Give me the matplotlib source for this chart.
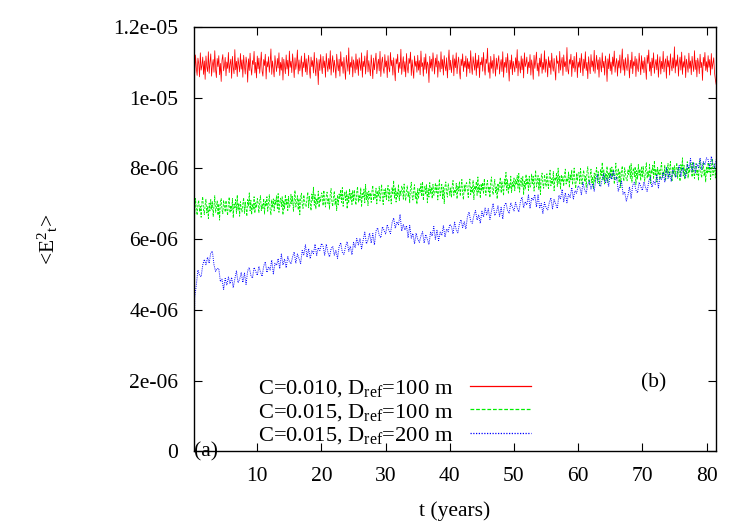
import numpy as np
import matplotlib
matplotlib.use("Agg")
import matplotlib.pyplot as plt

# ---------------- data (values in units of 1e-6) ----------------
fine_step_years = 0.125    # sampling of red and green series
coarse_step_years = 0.25   # sampling of blue series

red_e6 = [0.0,
 11.02, 10.70, 11.21, 10.84, 10.63, 11.12, 10.96, 10.59, 11.27, 10.78, 10.91, 11.15, 10.66, 11.04, 10.52, 11.18, 10.87, 10.74, 11.30, 10.69,
 10.99, 11.24, 10.61, 10.93, 11.08, 10.72, 11.33, 10.80, 10.57, 11.11, 10.88, 11.19, 10.65, 10.97, 10.46, 11.06, 11.22, 10.76, 10.90, 11.14,
 10.62, 11.01, 10.83, 11.28, 10.71, 10.95, 11.09, 10.55, 11.17, 10.86, 10.68, 11.36, 10.79, 11.03, 10.60, 11.13, 10.92, 10.73, 11.25, 10.81,
 11.07, 10.58, 11.20, 10.89, 10.67, 11.15, 10.98, 10.44, 11.10, 10.77, 11.26, 10.85, 10.64, 11.05, 10.94, 11.31, 10.70, 11.00, 10.56, 11.18,
 10.82, 11.12, 10.69, 10.96, 11.29, 10.75, 10.61, 11.08, 10.91, 11.23, 10.53, 11.02, 10.87, 11.16, 10.72, 10.98, 11.38, 10.66, 11.04, 10.80,
 10.59, 11.19, 10.93, 10.74, 11.11, 10.84, 11.27, 10.63, 11.00, 10.78, 11.14, 10.50, 11.09, 10.90, 10.68, 11.21, 10.81, 11.06, 10.62, 11.32,
 10.86, 11.03, 10.71, 11.24, 10.95, 10.57, 11.13, 10.80, 10.99, 11.35, 10.67, 11.07, 10.76, 10.92, 11.18, 10.60, 11.01, 10.85, 11.26, 10.73,
 11.10, 10.65, 10.97, 11.20, 10.79, 10.55, 11.15, 10.88, 11.05, 10.70, 11.28, 10.83, 10.62, 11.12, 10.94, 10.37, 11.08, 10.77, 11.22, 10.90,
 10.68, 11.17, 10.85, 11.04, 10.58, 11.25, 10.93, 10.74, 11.11, 10.81, 11.33, 10.64, 10.99, 11.19, 10.72, 11.06, 10.87, 10.56, 11.23, 10.96,
 10.76, 11.09, 10.61, 11.30, 10.89, 11.02, 10.69, 11.14, 10.83, 10.52, 11.20, 10.97, 10.75, 11.41, 10.66, 11.00, 10.86, 11.16, 10.59, 11.07,
 10.92, 10.70, 11.24, 10.80, 11.08, 10.63, 11.13, 10.95, 10.77, 11.27, 10.58, 11.03, 10.88, 11.18, 10.67, 10.99, 11.34, 10.73, 11.05, 10.84,
 10.62, 11.21, 10.91, 10.54, 11.12, 10.79, 11.01, 11.26, 10.68, 10.94, 11.09, 10.76, 11.31, 10.60, 10.98, 11.15, 10.82, 10.69, 11.22, 10.87,
 11.04, 10.57, 11.19, 10.85, 10.73, 11.28, 10.90, 11.06, 10.64, 11.13, 10.79, 10.48, 11.10, 10.96, 11.23, 10.71, 11.00, 10.83, 11.37, 10.66,
 10.93, 11.16, 10.74, 11.02, 10.59, 11.25, 10.86, 10.70, 11.11, 10.97, 11.29, 10.63, 11.07, 10.81, 10.55, 11.18, 10.89, 11.03, 10.72, 11.20,
 10.78, 11.05, 10.65, 11.32, 10.88, 10.99, 10.61, 11.14, 10.80, 11.24, 10.69, 11.01, 10.92, 10.43, 11.17, 10.84, 11.09, 10.75, 11.27, 10.95,
 10.67, 11.12, 10.87, 11.22, 10.58, 11.04, 10.96, 10.73, 11.30, 10.82, 11.08, 10.64, 11.19, 10.90, 10.76, 11.13, 10.56, 11.00, 11.35, 10.79,
 11.06, 10.71, 10.94, 11.21, 10.62, 11.10, 10.85, 11.27, 10.68, 10.98, 11.15, 10.77, 10.53, 11.09, 10.91, 11.24, 10.74, 11.03, 10.86, 11.18,
 10.60, 11.11, 10.82, 11.02, 10.70, 11.33, 10.89, 10.66, 11.16, 10.95, 10.78, 11.26, 10.63, 11.07, 10.84, 11.20, 10.57, 11.01, 10.93, 11.14,
 10.75, 11.28, 10.87, 10.64, 11.09, 10.97, 11.40, 10.72, 10.99, 10.55, 11.17, 10.83, 11.05, 10.69, 11.23, 10.90, 10.61, 11.12, 10.80, 11.02,
 11.19, 10.67, 10.95, 11.08, 10.74, 11.30, 10.58, 11.00, 10.86, 11.14, 10.71, 11.25, 10.92, 10.47, 11.06, 10.81, 11.21, 10.65, 11.03, 10.89,
 10.73, 11.13, 10.84, 11.36, 10.62, 11.04, 10.93, 10.70, 11.18, 10.79, 11.10, 10.56, 11.27, 10.88, 10.97, 11.15, 10.68, 11.01, 10.85, 11.22,
 10.64, 11.07, 10.90, 10.52, 11.20, 10.83, 11.03, 11.29, 10.76, 10.98, 10.61, 11.12, 10.87, 11.24, 10.69, 11.00, 10.80, 11.33, 10.72, 11.09,
 10.94, 10.59, 11.16, 10.85, 11.05, 10.66, 11.26, 10.91, 10.75, 11.11, 10.82, 10.50, 11.19, 10.97, 11.04, 10.70, 11.31, 10.78, 10.99, 11.14,
 10.63, 11.21, 10.88, 11.02, 10.74, 11.42, 10.81, 10.67, 11.08, 10.95, 11.23, 10.60, 11.06, 10.84, 11.17, 10.73, 10.92, 11.28, 10.57, 11.01,
 10.86, 11.12, 10.71, 11.25, 10.96, 10.62, 11.09, 10.83, 11.30, 10.77, 11.00, 10.54, 11.16, 10.90, 10.68, 11.22, 10.87, 11.04, 10.75, 11.34,
 10.69, 10.98, 11.20, 10.80, 11.07, 10.58, 11.14, 10.92, 10.73, 11.27, 10.85, 11.03, 10.64, 11.18, 10.95, 10.46, 11.10, 10.82, 11.24, 10.76,
 11.01, 10.66, 11.15, 10.89, 11.32, 10.72, 10.97, 11.11, 10.61, 11.05, 10.84, 11.21, 10.70, 10.99, 11.38, 10.78, 11.08, 10.63, 11.13, 10.91,
 10.77, 11.23, 10.94, 10.56, 11.06, 10.83, 11.29, 10.68, 11.02, 10.90, 11.17, 10.60, 11.10, 10.86, 10.74, 11.26, 10.95, 10.65, 11.19, 10.81,
 11.04, 10.71, 11.14, 10.88, 10.52, 11.20, 10.97, 11.35, 10.75, 11.01, 10.62, 11.12, 10.85, 11.27, 10.69, 10.93, 11.08, 10.79, 11.22, 10.58,
 10.96, 11.16, 10.67, 11.03, 10.82, 11.31, 10.73, 10.99, 11.10, 10.55, 11.18, 10.87, 11.05, 10.64, 11.24, 10.91, 10.76, 11.13, 10.84, 11.44,
 10.70, 11.07, 10.89, 11.21, 10.61, 10.98, 11.15, 10.78, 11.29, 10.66, 11.02, 10.86, 11.19, 10.57, 11.09, 10.94, 10.72, 11.26, 10.83, 11.04,
 10.65, 11.17, 10.92, 10.74, 11.33, 10.80, 11.06, 10.59, 11.12, 10.97, 10.68, 11.23, 10.85, 11.00, 10.49, 11.14, 10.90, 11.28, 10.77, 11.02,
 10.73, 11.19, 10.86, 11.08, 10.64, 11.25, 10.81, 10.97, 11.13, 10.70, 10.52, 10.38]

green_e6 = [0.0,
 7.04, 6.72, 7.15, 6.84, 6.68, 6.99, 7.10, 6.78, 6.93, 6.62, 7.06, 7.20, 6.81, 6.70, 6.97, 7.13, 6.74, 6.92, 6.58, 7.02,
 6.80, 7.12, 6.85, 7.06, 6.64, 6.95, 7.23, 6.76, 6.87, 7.08, 6.68, 7.00, 6.54, 7.04, 7.15, 6.83, 6.72, 7.10, 6.94, 6.77,
 7.09, 6.84, 6.67, 7.03, 7.19, 6.75, 6.95, 6.80, 7.15, 6.61, 6.99, 6.89, 7.12, 6.73, 7.25, 6.82, 7.02, 6.65, 7.06, 6.86,
 6.77, 7.01, 7.17, 6.73, 7.05, 6.87, 6.65, 7.12, 6.94, 7.31, 6.80, 7.10, 6.70, 6.99, 6.85, 7.20, 6.74, 7.03, 6.89, 7.15,
 7.02, 6.75, 7.09, 7.23, 6.81, 6.98, 6.87, 7.15, 6.71, 7.07, 6.93, 7.20, 6.79, 7.04, 7.26, 6.84, 6.69, 7.11, 6.90, 7.14,
 6.80, 7.11, 6.98, 7.23, 6.87, 7.29, 6.76, 7.05, 7.16, 6.92, 7.20, 6.69, 7.09, 6.85, 7.26, 6.96, 7.13, 6.81, 7.21, 6.90,
 6.95, 7.27, 7.00, 7.21, 6.79, 7.10, 7.38, 6.91, 7.02, 7.23, 6.83, 7.15, 6.69, 7.19, 7.30, 6.98, 6.87, 7.25, 7.09, 6.92,
 6.93, 7.17, 7.33, 6.89, 7.21, 7.03, 6.81, 7.28, 7.10, 7.47, 6.96, 7.26, 6.86, 7.15, 7.01, 7.36, 6.90, 7.19, 7.05, 7.31,
 7.27, 6.95, 7.38, 7.07, 6.91, 7.22, 7.33, 7.01, 7.16, 6.85, 7.29, 7.43, 7.04, 6.93, 7.20, 7.36, 6.97, 7.15, 6.81, 7.25,
 6.97, 7.28, 7.15, 7.40, 7.04, 7.46, 6.93, 7.22, 7.33, 7.09, 7.37, 6.86, 7.26, 7.02, 7.43, 7.13, 7.30, 6.98, 7.38, 7.07,
 7.39, 7.14, 6.97, 7.33, 7.49, 7.05, 7.25, 7.10, 7.45, 6.91, 7.29, 7.19, 7.42, 7.03, 7.55, 7.12, 7.32, 6.95, 7.36, 7.16,
 7.31, 7.04, 7.38, 7.52, 7.10, 7.27, 7.16, 7.44, 7.00, 7.36, 7.22, 7.49, 7.08, 7.33, 7.55, 7.13, 6.98, 7.40, 7.19, 7.43,
 7.12, 7.36, 7.52, 7.08, 7.40, 7.22, 7.00, 7.47, 7.29, 7.66, 7.15, 7.45, 7.05, 7.34, 7.20, 7.55, 7.09, 7.38, 7.24, 7.50,
 7.45, 7.13, 7.56, 7.25, 7.09, 7.40, 7.51, 7.19, 7.34, 7.03, 7.47, 7.61, 7.22, 7.11, 7.38, 7.54, 7.15, 7.33, 6.99, 7.43,
 7.14, 7.45, 7.32, 7.57, 7.21, 7.63, 7.10, 7.39, 7.50, 7.26, 7.54, 7.03, 7.43, 7.19, 7.60, 7.30, 7.47, 7.15, 7.55, 7.24,
 7.27, 7.59, 7.32, 7.53, 7.11, 7.42, 7.70, 7.23, 7.34, 7.55, 7.15, 7.47, 7.01, 7.51, 7.62, 7.30, 7.19, 7.57, 7.41, 7.24,
 7.45, 7.18, 7.52, 7.66, 7.24, 7.41, 7.30, 7.58, 7.14, 7.50, 7.36, 7.63, 7.22, 7.47, 7.69, 7.27, 7.12, 7.54, 7.33, 7.57,
 7.60, 7.35, 7.18, 7.54, 7.70, 7.26, 7.46, 7.31, 7.66, 7.12, 7.50, 7.40, 7.63, 7.24, 7.76, 7.33, 7.53, 7.16, 7.57, 7.37,
 7.60, 7.28, 7.71, 7.40, 7.24, 7.55, 7.66, 7.34, 7.49, 7.18, 7.62, 7.76, 7.37, 7.26, 7.53, 7.69, 7.30, 7.48, 7.14, 7.58,
 7.35, 7.59, 7.75, 7.31, 7.63, 7.45, 7.23, 7.70, 7.52, 7.89, 7.38, 7.68, 7.28, 7.57, 7.43, 7.78, 7.32, 7.61, 7.47, 7.73,
 7.37, 7.68, 7.55, 7.80, 7.44, 7.86, 7.33, 7.62, 7.73, 7.49, 7.77, 7.26, 7.66, 7.42, 7.83, 7.53, 7.70, 7.38, 7.78, 7.47,
 7.52, 7.84, 7.57, 7.78, 7.36, 7.67, 7.95, 7.48, 7.59, 7.80, 7.40, 7.72, 7.26, 7.76, 7.87, 7.55, 7.44, 7.82, 7.66, 7.49,
 7.85, 7.60, 7.43, 7.79, 7.95, 7.51, 7.71, 7.56, 7.91, 7.37, 7.75, 7.65, 7.88, 7.49, 8.01, 7.58, 7.78, 7.41, 7.82, 7.62,
 7.77, 7.50, 7.84, 7.98, 7.56, 7.73, 7.62, 7.90, 7.46, 7.82, 7.68, 7.95, 7.54, 7.79, 8.01, 7.59, 7.44, 7.86, 7.65, 7.89,
 7.89, 7.57, 8.00, 7.69, 7.53, 7.84, 7.95, 7.63, 7.78, 7.47, 7.91, 8.05, 7.66, 7.55, 7.82, 7.98, 7.59, 7.77, 7.43, 7.87,
 7.63, 7.87, 8.03, 7.59, 7.91, 7.73, 7.51, 7.98, 7.80, 8.17, 7.66, 7.96, 7.56, 7.85, 7.71, 8.06, 7.60, 7.89, 7.75, 8.01,
 7.72, 8.04, 7.77, 7.98, 7.56, 7.87, 8.15, 7.68, 7.79, 8.00, 7.60, 7.92, 7.46, 7.96, 8.07, 7.75, 7.64, 8.02, 7.86, 7.69,
 7.65, 7.96, 7.83, 8.08, 7.72, 8.14, 7.61, 7.90, 8.01, 7.77, 8.05, 7.54, 7.94, 7.70, 8.11, 7.81, 7.98, 7.66, 8.06, 7.75,
 8.06, 7.81, 7.64, 8.00, 8.16, 7.72, 7.92, 7.77, 8.12, 7.58, 7.96, 7.86, 8.09, 7.70, 8.22, 7.79, 7.99, 7.62, 8.03, 7.83,
 7.96, 7.69, 8.03, 8.17, 7.75, 7.92, 7.81, 8.09, 7.65, 8.01, 7.87, 8.14, 7.73, 7.98, 8.20, 7.78, 7.63, 8.05, 7.84, 8.08,
 7.76, 8.00, 8.16, 7.72, 8.04, 7.86, 7.64, 8.11, 7.93, 8.30, 7.79, 8.09, 7.69, 7.98, 7.84, 8.19, 7.73, 8.02, 7.88, 8.14,
 8.08, 7.76, 8.19, 7.88, 7.72, 8.03, 8.14, 7.82, 7.97, 7.66, 8.10, 8.24, 7.85, 7.74, 8.01, 8.17, 7.78, 7.96, 7.62, 8.06,
 7.85, 8.17, 7.90, 8.11, 7.69, 8.00, 8.28, 7.81, 7.92, 8.13, 7.73, 8.05]

blue_e6 = [0.0,
 4.35, 4.71, 5.13, 4.98, 4.94, 5.27, 5.43, 5.28, 5.49, 5.32, 5.62, 5.66, 5.28, 5.09, 5.17, 5.17, 4.80, 4.87, 4.58, 4.89,
 4.70, 4.93, 4.74, 4.92, 4.63, 4.88, 5.10, 4.77, 4.87, 5.06, 4.78, 5.04, 4.72, 5.11, 5.20, 4.98, 4.90, 5.20, 5.09, 4.98,
 5.23, 5.07, 4.95, 5.24, 5.36, 5.06, 5.22, 5.13, 5.41, 5.02, 5.32, 5.26, 5.45, 5.17, 5.58, 5.27, 5.44, 5.19, 5.51, 5.37,
 5.30, 5.50, 5.64, 5.32, 5.58, 5.45, 5.31, 5.68, 5.56, 5.84, 5.49, 5.73, 5.45, 5.68, 5.59, 5.86, 5.54, 5.76, 5.68, 5.88,
 5.80, 5.55, 5.86, 5.63, 5.50, 5.73, 5.80, 5.55, 5.68, 5.46, 5.79, 5.90, 5.63, 5.57, 5.79, 5.93, 5.66, 5.80, 5.56, 5.91,
 5.76, 6.02, 5.84, 6.02, 5.73, 5.98, 6.20, 5.87, 5.97, 6.17, 5.89, 6.16, 5.84, 6.23, 6.32, 6.11, 6.04, 6.35, 6.25, 6.15,
 6.41, 6.26, 6.16, 6.46, 6.60, 6.31, 6.49, 6.41, 6.70, 6.23, 6.42, 6.26, 6.38, 6.04, 6.39, 6.03, 6.16, 5.87, 6.17, 6.00,
 5.91, 6.09, 6.21, 5.89, 6.13, 6.00, 5.85, 6.21, 6.09, 6.36, 6.00, 6.25, 5.96, 6.20, 6.11, 6.38, 6.06, 6.29, 6.21, 6.42,
 6.37, 6.15, 6.48, 6.27, 6.18, 6.44, 6.55, 6.33, 6.49, 6.29, 6.64, 6.77, 6.51, 6.45, 6.67, 6.81, 6.54, 6.69, 6.45, 6.79,
 6.63, 6.88, 6.69, 6.86, 6.56, 6.80, 7.01, 6.67, 6.76, 6.94, 6.65, 6.90, 6.57, 6.95, 7.03, 6.81, 6.73, 7.03, 6.91, 6.80,
 7.04, 6.88, 6.77, 7.06, 7.19, 6.89, 7.06, 6.97, 7.25, 6.87, 7.17, 7.10, 7.26, 6.91, 7.25, 6.89, 7.01, 6.73, 7.04, 6.89,
 6.83, 7.03, 7.17, 6.86, 7.12, 7.00, 6.87, 7.24, 7.13, 7.41, 7.06, 7.31, 7.03, 7.27, 7.18, 7.46, 7.14, 7.37, 7.30, 7.51,
 7.47, 7.26, 7.60, 7.40, 7.30, 7.55, 7.65, 7.42, 7.57, 7.36, 7.70, 7.82, 7.55, 7.49, 7.71, 7.85, 7.58, 7.73, 7.50, 7.85,
 7.69, 7.94, 7.68, 7.76, 7.36, 7.51, 7.64, 7.27, 7.34, 7.08, 7.23, 7.48, 7.15, 7.53, 7.61, 7.39, 7.31, 7.61, 7.49, 7.38,
 7.62, 7.46, 7.35, 7.64, 7.77, 7.47, 7.64, 7.55, 7.83, 7.45, 7.75, 7.69, 7.89, 7.61, 8.02, 7.72, 7.89, 7.64, 7.96, 7.82,
 7.75, 7.95, 8.08, 7.77, 8.02, 7.90, 7.75, 8.12, 8.00, 8.28, 7.92, 8.17, 7.88, 8.12, 8.02, 8.30, 7.97, 8.19, 8.10, 8.30,
 8.25, 8.02, 8.34, 8.13, 8.01, 8.25]

series_labels = [r'C=0.010, D$_{\rm ref}$=100 m',
                 r'C=0.015, D$_{\rm ref}$=100 m',
                 r'C=0.015, D$_{\rm ref}$=200 m']
series_colors = ['#ff0000', '#00ee00', '#0000ff']
xtick_values = [10, 20, 30, 40, 50, 60, 70, 80]
ytick_values = [0, 2e-06, 4e-06, 6e-06, 8e-06, 1e-05, 1.2e-05]
ytick_labels = ['0', '2e-06', '4e-06', '6e-06', '8e-06', '1e-05', '1.2e-05']

# ---------------- style ----------------
plt.rcParams['font.family'] = ['Liberation Serif', 'DejaVu Serif']
plt.rcParams['mathtext.fontset'] = 'custom'
plt.rcParams['mathtext.rm'] = 'Liberation Serif'
plt.rcParams['mathtext.it'] = 'Liberation Serif:italic'
plt.rcParams['mathtext.bf'] = 'Liberation Serif:bold'
FS = 15.5

fig = plt.figure(figsize=(7.5, 5.25), dpi=100)
ax = fig.add_axes([194.4 / 750, 1 - 451.4 / 525, (715.5 - 194.4) / 750, (451.4 - 27) / 525])

def times(n, step):
    return np.arange(n) * step

scale = 1e-6
ax.plot(times(len(red_e6), fine_step_years), np.array(red_e6) * scale,
        color=series_colors[0], lw=0.55, label=series_labels[0])
ax.plot(times(len(green_e6), fine_step_years), np.array(green_e6) * scale,
        color=series_colors[1], lw=0.6, linestyle=(0, (3, 1.5)), label=series_labels[1])
ax.plot(times(len(blue_e6), coarse_step_years), np.array(blue_e6) * scale,
        color=series_colors[2], lw=0.7, linestyle=(0, (1, 1.2)), label=series_labels[2])

ax.set_xlim(0.2, 81.4)
ax.set_ylim(0, 1.2e-05)
ax.set_xticks(xtick_values)
ax.set_xticklabels([str(v) for v in xtick_values])
ax.set_yticks(ytick_values)
ax.set_yticklabels(ytick_labels)
ax.tick_params(direction='in', length=6, width=0.8, top=True, right=True,
               labelsize=FS, pad=11.5)
for s in ax.spines.values():
    s.set_linewidth(1.0)

ax.set_xlabel('t (years)', fontsize=FS)
ax.xaxis.set_label_coords(0.5, -0.118)
ax.set_ylabel(r'<E$^{2}{}_{\rm t}$>', fontsize=FS)
ax.yaxis.set_label_coords(-0.258, 0.5)

ax.text(0.0, 0.0, '(a)', transform=ax.transAxes, ha='left', va='center', fontsize=FS)
ax.text(71.7, 1.93e-06, '(b)', ha='center', va='center', fontsize=FS)

leg = ax.legend(loc='upper right', bbox_to_anchor=(531 / 750, 1 - 378 / 525),
                bbox_transform=fig.transFigure, frameon=False, fontsize=16.2,
                markerfirst=False, handlelength=2.7, handletextpad=0.75,
                labelspacing=0.1, borderpad=0, borderaxespad=0)
for h, c in zip(leg.get_lines(), series_colors):
    h.set_color(c)
    h.set_linewidth(0.9)

fig.savefig('out.png', dpi=100)
